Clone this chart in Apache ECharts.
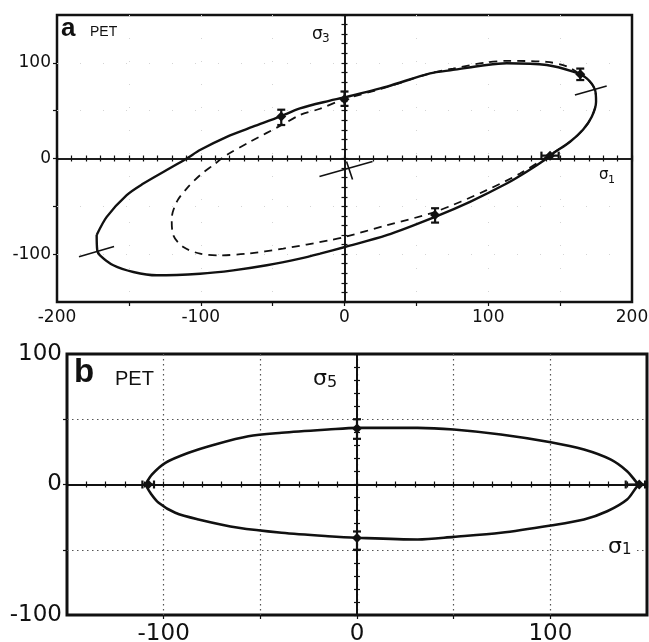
<!DOCTYPE html>
<html><head><meta charset="utf-8">
<script src="https://cdn.jsdelivr.net/npm/echarts@6/dist/echarts.min.js"></script>
<style>html,body{margin:0;padding:0;background:#fff}#c{width:649px;height:642px}</style>
</head><body><div id="c"></div>
<script>
// ---------- data: panel a (sigma1 vs sigma3) ----------
const topXLabels = [-200, -100, 0, 100, 200];
const topYLabels = [-100, 0, 100];
const topXGrid = [-150, -100, -50, 0, 50, 100, 150];
const topYGrid = [-100, -50, 0, 50, 100];
const topSolid = [
  [-172.4,-80],[-165.4,-61],[-151.5,-38.3],[-140.2,-26.5],[-123.7,-12.1],[-109.8,0],[-100.2,9.1],
  [-81.9,22.7],[-63.7,33.2],[-44.9,43.7],[-31,52.4],[-10.1,60.5],[-1,63.5],[29.4,75.1],[59.5,89],
  [75.5,92.6],[98.9,97.8],[112.8,99.5],[140.7,97.8],[159,90.8],[168.5,83.8],[174.3,71.6],[175,59.4],
  [172,43.7],[165.9,30.1],[156.9,17.5],[145,5.2],[140.7,0],[126.7,-13.9],[112.8,-26.2],[87.3,-45.3],
  [63,-61],[29.4,-80.2],[0.3,-92.5],[-17,-99.5],[-31,-104.7],[-54.1,-111.6],[-77.4,-116.9],
  [-100.5,-120.4],[-130.6,-122.1],[-146.9,-118.6],[-160.8,-111.6],[-170.1,-101.2],[-172,-95.9],[-172.4,-80]
];
const topDashed = [
  [163,89],[155,96],[140.7,101],[112.8,102],[98.9,100.5],[75.5,94],[59.5,89],[29.4,74.5],[-1,61.5],
  [-17,52],[-31,45.4],[-43.7,35],[-65.7,17.5],[-82,3.6],[-91.3,-6.9],[-100.5,-17.4],[-109.8,-31.4],
  [-116.7,-45.3],[-120.2,-62.8],[-119.1,-80.2],[-112.1,-92.5],[-100.5,-99.5],[-86.6,-101.2],[-68,-99.5],
  [-42.6,-94.2],[-10.1,-85.4],[0.3,-82],[29.4,-69.7],[63,-55.8],[98.9,-33.1],[122.1,-15.7],[140.7,1.8],
  [156.9,17.5],[165.9,30.1],[172,43.7],[175,59.4],[174.3,71.6],[168.5,83.8],[163,89]
];
// points with vertical error bars: [x, y, low, high]
const topPointsV = [[-44,44,35,51],[0,62,55,70],[164,88,82,94],[63,-59,-67,-52]];
// points with horizontal error bars: [x, y, left, right]
const topPointsH = [[143,3,137,149]];
// short straight segments: [x1, y1, x2, y2]
const topSegments = [[-184.7,-102.6,-160.3,-92],[160.3,66.4,182.4,75.8],[-17.4,-18.8,19.5,-3.1],[1.4,-3.1,5.6,-22]];

// ---------- data: panel b (sigma1 vs sigma5) ----------
const botXLabels = [-100, 0, 100];
const botYLabels = [-100, 0, 100];
const botXGrid = [-100, -50, 0, 50, 100];
const botYGrid = [-50, 0, 50];
const botCurve = [
  [-109.4,0],[-106,7.7],[-99.1,16.6],[-87.1,24.3],[-73.4,30.7],[-56.2,37],[-39,39.6],[-15,42.1],[0.2,43.4],
  [31.4,43.4],[50,42.1],[74.4,38.3],[100.2,32.4],[117.4,26.8],[131.1,19.2],[139.7,10.2],[144.8,1.3],[146,0],
  [144.8,-1.5],[139.7,-11.5],[129.4,-20.5],[117.4,-26.8],[100.2,-31.4],[74.4,-37],[50,-40.1],[31.4,-42.1],
  [0.2,-40.8],[-15,-39.6],[-39,-37],[-61.3,-33.2],[-82,-26.8],[-94,-21.7],[-102.6,-14],[-106.9,-6.4],[-109.4,0]
];
const botPointsV = [[0,43,35,50],[0,-41,-50,-36]];
const botPointsH = [[146,0,139,149],[-108,0,-111,-105]];

// ---------- chart ----------
const INK = '#111';
const chart = echarts.init(document.getElementById('c'), null, {renderer: 'canvas'});

function fmt(labels) { return v => labels.indexOf(v) >= 0 ? String(v) : ''; }

function outer(dim, g, min, max, labels, grid, fs, margin, split) {
  return {type:'value', gridIndex:g, min, max, interval:50, position: dim === 'x' ? 'bottom' : 'left',
    axisLine:{show:false, onZero:false},
    axisTick:{show:true, length:4, customValues:grid, lineStyle:{color:INK, width:1.2}},
    axisLabel:{show:true, customValues:labels, showMinLabel:true, showMaxLabel:true, formatter:fmt(labels),
      fontFamily:'DejaVu Sans', fontSize:fs, color:INK, margin},
    splitLine:split};
}
function inner(g, min, max, pos, w) {
  return {type:'value', gridIndex:g, min, max, interval:10, position:pos,
    axisLine:{show:true, onZero:true, lineStyle:{color:INK, width:w}},
    axisTick:{show:true, inside:false, length:3, lineStyle:{color:INK, width:1.2}},
    axisLabel:{show:false}, splitLine:{show:false}};
}

const topSplit = {show:true, lineStyle:{color:'#d4d4d4', width:1, type:[1,22]}};
const botSplit = {show:true, lineStyle:{color:'#555', width:1.2, type:[1.5,3.5]}};

function errRender(horizontal) {
  return function (params, api) {
    const x = api.value(0), y = api.value(1), lo = api.value(2), hi = api.value(3);
    const c = api.coord([x, y]);
    const a = horizontal ? api.coord([lo, y]) : api.coord([x, lo]);
    const b = horizontal ? api.coord([hi, y]) : api.coord([x, hi]);
    const st = {stroke:INK, lineWidth:2.2};
    const cap = 4;
    const ch = [{type:'line', shape:{x1:a[0], y1:a[1], x2:b[0], y2:b[1]}, style:st}];
    if (horizontal) {
      ch.push({type:'line', shape:{x1:a[0], y1:a[1]-cap, x2:a[0], y2:a[1]+cap}, style:st});
      ch.push({type:'line', shape:{x1:b[0], y1:b[1]-cap, x2:b[0], y2:b[1]+cap}, style:st});
    } else {
      ch.push({type:'line', shape:{x1:a[0]-cap, y1:a[1], x2:a[0]+cap, y2:a[1]}, style:st});
      ch.push({type:'line', shape:{x1:b[0]-cap, y1:b[1], x2:b[0]+cap, y2:b[1]}, style:st});
    }
    ch.push({type:'polygon', shape:{points:[[c[0],c[1]-5],[c[0]+5,c[1]],[c[0],c[1]+5],[c[0]-5,c[1]]]}, style:{fill:INK}});
    return {type:'group', children:ch};
  };
}
function segRender(params, api) {
  const a = api.coord([api.value(0), api.value(1)]);
  const b = api.coord([api.value(2), api.value(3)]);
  return {type:'line', shape:{x1:a[0], y1:a[1], x2:b[0], y2:b[1]}, style:{stroke:INK, lineWidth:1.6}};
}

const txt = (text, x, y, size, weight, family) => ({
  type:'text', x, y, z:100,
  style:{text, fontSize:size, fontWeight:weight||'normal', fontFamily:family||'DejaVu Sans', fill:INK,
    align:'left', verticalAlign:'top'}});

chart.setOption({
  animation:false,
  backgroundColor:'#fff',
  grid:[
    {left:57, top:15, width:575, height:287, show:true, borderColor:INK, borderWidth:2.5,
     backgroundColor:'transparent', containLabel:false, outerBoundsMode:'none'},
    {left:67, top:354, width:580, height:261, show:true, borderColor:INK, borderWidth:3,
     backgroundColor:'transparent', containLabel:false, outerBoundsMode:'none'}
  ],
  xAxis:[
    outer('x', 0, -200, 200, topXLabels, topXGrid, 17, 7, topSplit),
    inner(0, -200, 200, 'bottom', 1.6),
    inner(0, -200, 200, 'top', 1.6),
    outer('x', 1, -150, 150, botXLabels, botXGrid, 23, 8, botSplit),
    inner(1, -150, 150, 'bottom', 2),
    inner(1, -150, 150, 'top', 2)
  ],
  yAxis:[
    outer('y', 0, -150, 150, topYLabels, topYGrid, 17, 6, topSplit),
    inner(0, -150, 150, 'left', 1.6),
    inner(0, -150, 150, 'right', 1.6),
    outer('y', 1, -100, 100, botYLabels, botYGrid, 23, 5, botSplit),
    inner(1, -100, 100, 'left', 2),
    inner(1, -100, 100, 'right', 2)
  ],
  series:[
    {type:'line', xAxisIndex:0, yAxisIndex:0, data:topSolid, smooth:0.3, showSymbol:false, z:5,
     lineStyle:{color:INK, width:2.4}},
    {type:'line', xAxisIndex:0, yAxisIndex:0, data:topDashed, smooth:0.3, showSymbol:false, z:4,
     lineStyle:{color:INK, width:1.8, type:[8,6]}},
    {type:'custom', xAxisIndex:0, yAxisIndex:0, data:topSegments, renderItem:segRender, z:6,
     encode:{x:[0,2], y:[1,3]}},
    {type:'custom', xAxisIndex:0, yAxisIndex:0, data:topPointsV, renderItem:errRender(false), z:7,
     encode:{x:0, y:1}},
    {type:'custom', xAxisIndex:0, yAxisIndex:0, data:topPointsH, renderItem:errRender(true), z:7,
     encode:{x:0, y:1}},
    {type:'line', xAxisIndex:3, yAxisIndex:3, data:botCurve, smooth:0.3, showSymbol:false, z:5,
     lineStyle:{color:INK, width:2.6}},
    {type:'custom', xAxisIndex:3, yAxisIndex:3, data:botPointsV, renderItem:errRender(false), z:7,
     encode:{x:0, y:1}},
    {type:'custom', xAxisIndex:3, yAxisIndex:3, data:botPointsH, renderItem:errRender(true), z:7,
     encode:{x:0, y:1}}
  ],
  graphic:[
    txt('a', 61, 16, 26, 'bold', 'Liberation Sans'),
    txt('PET', 90, 25, 14, 'normal', 'Liberation Sans'),
    txt('σ', 312, 26, 17),
    txt('3', 322, 33, 12),
    txt('σ', 599, 168, 15),
    txt('1', 608, 175, 11),
    txt('b', 74, 356, 33, 'bold', 'Liberation Sans'),
    txt('PET', 115, 369, 20, 'normal', 'Liberation Sans'),
    txt('σ', 313, 368, 22),
    txt('5', 327, 375, 16),
    {type:'rect', z:99, shape:{x:604, y:541, width:30, height:18}, style:{fill:'#fff'}},
    txt('σ', 608, 536, 22),
    txt('1', 622, 543, 15)
  ]
});
</script></body></html>
